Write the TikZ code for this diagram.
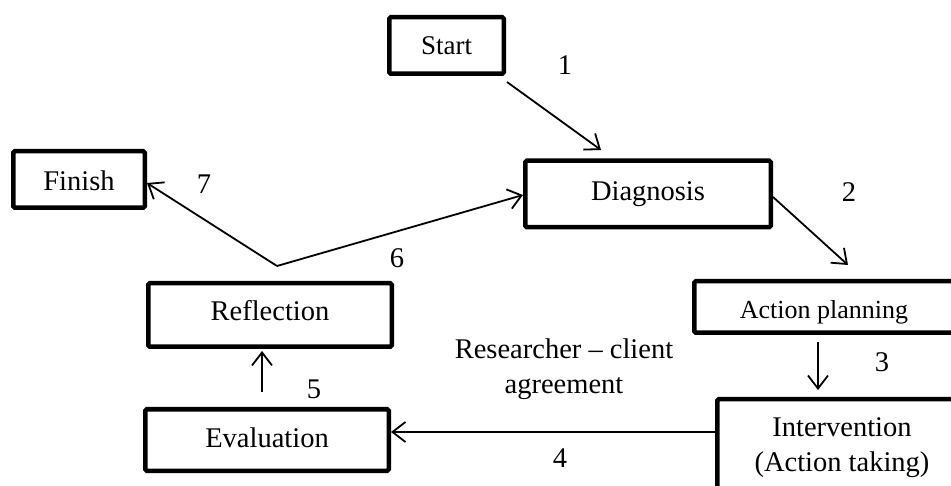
\documentclass[tikz,border=0pt]{standalone}
\usepackage{fontspec}
\setmainfont{Liberation Serif}
\usetikzlibrary{arrows.meta,calc}
\begin{document}
\begin{tikzpicture}[x=1pt,y=-1pt,
  box/.style={draw, line width=4.5pt, rounded corners=1.5pt, inner sep=0pt,
    font=\fontsize{28.5}{35}\selectfont},
  lbl/.style={inner sep=0pt, font=\fontsize{28.5}{35}\selectfont},
  arr/.style={line width=1.8pt, -{Straight Barb[length=13pt,width=20pt,line width=1.8pt]}}]
\useasboundingbox (0,0) rectangle (951,486);
\clip (0,0) rectangle (951,486);

% boxes
\node[box, minimum width=114.5pt, minimum height=56.5pt, text height=19pt, text depth=0pt,
  font=\fontsize{27}{32}\selectfont] (start) at (446.5,45.5) {Start};
\node[box, minimum width=245.5pt, minimum height=66.5pt, text height=14pt, text depth=0pt] (diag) at (648,194) {Diagnosis};
\node[box, minimum width=131.5pt, minimum height=56.5pt, text height=22pt, text depth=0pt] (finish) at (79,179.5) {Finish};
\node[box, minimum width=243.5pt, minimum height=63.5pt, text height=12pt, text depth=0pt] (refl) at (270,315) {Reflection};
\node[box, minimum width=243.5pt, minimum height=61.5pt, text height=14pt, text depth=0pt] (eval) at (267,440) {Evaluation};
\node[box, minimum width=259.5pt, minimum height=51.5pt, text height=24pt, text depth=0pt,
  font=\fontsize{26}{31}\selectfont] (plan) at (824,307) {Action planning};
\node[box, minimum width=249.5pt, minimum height=97.5pt, align=center] (interv) at (842,448) {Intervention\\(Action taking)};

% labels
\node[lbl] (n1) at (565,65) {1};
\node[lbl] (n2) at (849,192) {2};
\node[lbl] (n3) at (882,362) {3};
\node[lbl] (n4) at (560,458) {4};
\node[lbl] (n5) at (314,389) {5};
\node[lbl] (n6) at (397,258) {6};
\node[lbl] (n7) at (204,184) {7};
\node[lbl, align=center] (rc) at (564,369) {Researcher – client\\agreement};

% connectors
\coordinate (a1s) at (507,82);
\coordinate (a1e) at (601,150);
\draw[arr] (a1s) -- (a1e);
\coordinate (a2s) at (773,197);
\coordinate (a2e) at (848,265);
\draw[arr] (a2s) -- (a2e);
\coordinate (a3s) at (818,342);
\coordinate (a3e) at (818,390);
\draw[arr] (a3s) -- (a3e);
\draw[arr] (interv.west |- 0,432) -- (eval.east |- 0,432);
\coordinate (a5s) at (262,392);
\coordinate (a5e) at (262,351);
\draw[arr] (a5s) -- (a5e);
\coordinate (j) at (277,266);
\draw[arr] (j) -- (diag.west |- 0,195);
\draw[arr] (j) -- (finish.east |- 0,183);
\end{tikzpicture}
\end{document}
